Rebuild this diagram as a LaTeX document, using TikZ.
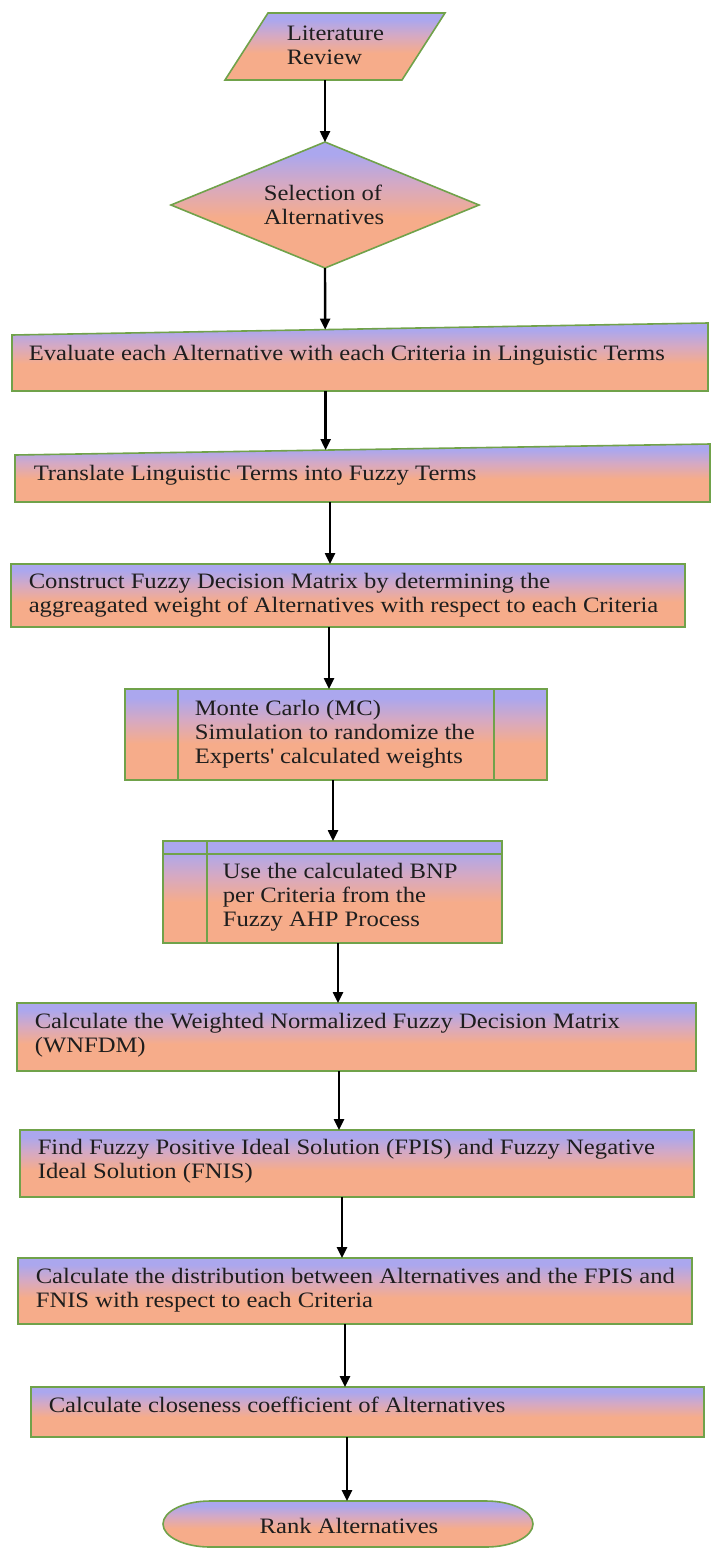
\documentclass[tikz,border=0pt]{standalone}
\usepackage[dvipsnames]{xcolor}
\usepackage{fontspec}
\setmainfont{Liberation Serif}[FakeStretch=1.12]
\usepackage{tikz}
\usetikzlibrary{arrows.meta, shapes.geometric, calc}
\definecolor{lila}{HTML}{ABA7EE}
\definecolor{mauve}{HTML}{D6A9C2}
\definecolor{lachs}{HTML}{F6AC8A}
\definecolor{rand}{HTML}{70A24A}
\definecolor{schrift}{HTML}{1E1E1E}
\pgfdeclareverticalshading{verlauf}{100bp}{color(0bp)=(lachs); color(25bp)=(lachs); color(45bp)=(lachs); color(58bp)=(mauve); color(70bp)=(lila); color(100bp)=(lila)}
\newcommand{\sz}{\fontsize{22}{24}\selectfont}

\begin{document}
\begin{tikzpicture}[x=1pt, y=-1pt, line width=1.6pt,
    kasten/.style={draw=rand, shade, shading=verlauf, inner sep=0pt, outer sep=0pt},
    rahmen/.style={inner sep=0pt, outer sep=0pt},
    form/.style={draw=rand, shade, shading=verlauf},
    txt/.style={font=\sz, text=schrift, align=left, anchor=west, inner sep=0pt},
    pfeil/.style={-{Triangle[length=11pt, width=10pt]}, line width=2.4pt, black}]
    \useasboundingbox (0,0) rectangle (711,1553);

    % Literatur.
    \node[rahmen, minimum width=220pt, minimum height=67pt] (lit) at (335,46.5) {};
    \path[form] ([xshift=43pt]lit.north west) -- (lit.north east) -- ([xshift=-43pt]lit.south east) -- (lit.south west) -- cycle;
    \node[txt] (littxt) at (286,45) {Literature\\Review};

    % Auswahl.
    \node[kasten, diamond, minimum width=308pt, minimum height=126pt] (sel) at (325,205) {};
    \node[txt] (seltxt) at (263,204.5) {Selection of\\Alternatives};

    % Eingaben.
    \node[rahmen, minimum width=696pt, minimum height=68pt] (eval) at (360,357) {};
    \path[form] ([yshift=-12pt]eval.north west) -- (eval.north east) -- (eval.south east) -- (eval.south west) -- cycle;
    \node[txt] (evaltxt) at (28,355) {Evaluate each Alternative with each Criteria in Linguistic Terms};

    \node[rahmen, minimum width=695pt, minimum height=58pt] (trans) at (362.5,473) {};
    \path[form] ([yshift=-11pt]trans.north west) -- (trans.north east) -- (trans.south east) -- (trans.south west) -- cycle;
    \node[txt] (transtxt) at (33,475) {Translate Linguistic Terms into Fuzzy Terms};

    % Matrix.
    \node[kasten, minimum width=674pt, minimum height=63pt] (cons) at (348,595.5) {};
    \node[txt] (constxt) at (28,595) {Construct Fuzzy Decision Matrix by determining the\\aggreagated weight of Alternatives with respect to each Criteria};

    % Simulation.
    \node[kasten, minimum width=422pt, minimum height=91pt] (mc) at (336,734.5) {};
    \draw[rand] ([xshift=53pt]mc.north west) -- ([xshift=53pt]mc.south west)
        ([xshift=-53pt]mc.north east) -- ([xshift=-53pt]mc.south east);
    \node[txt] (mctxt) at (194,734) {Monte Carlo (MC)\\Simulation to randomize the\\Experts\textquotesingle{} calculated weights};

    % Gewichte.
    \node[kasten, minimum width=339pt, minimum height=102pt] (bnp) at (332.5,892) {};
    \draw[rand] ([yshift=-13pt]bnp.north west) -- ([yshift=-13pt]bnp.north east)
        ([xshift=44pt]bnp.north west) -- ([xshift=44pt]bnp.south west);
    \node[txt] (bnptxt) at (222,897.5) {Use the calculated BNP\\per Criteria from the\\Fuzzy AHP Process};

    % Rechnung.
    \node[kasten, minimum width=679pt, minimum height=68pt] (wnfdm) at (356.5,1037) {};
    \node[txt] (wnfdmtxt) at (34,1035.5) {Calculate the Weighted Normalized Fuzzy Decision Matrix\\(WNFDM)};

    \node[kasten, minimum width=674pt, minimum height=67pt] (fpis) at (357,1163.5) {};
    \node[txt] (fpistxt) at (37,1161.5) {Find Fuzzy Positive Ideal Solution (FPIS) and Fuzzy Negative\\Ideal Solution (FNIS)};

    \node[kasten, minimum width=674pt, minimum height=66pt] (dist) at (355,1291) {};
    \node[txt] (disttxt) at (35,1290) {Calculate the distribution between Alternatives and the FPIS and\\FNIS with respect to each Criteria};

    \node[kasten, minimum width=673pt, minimum height=50pt] (close) at (367.5,1412) {};
    \node[txt] (closetxt) at (48,1405) {Calculate closeness coefficient of Alternatives};

    % Ergebnis.
    \node[rahmen, minimum width=370pt, minimum height=46pt] (rank) at (348,1524) {};
    \path[form] ([xshift=47pt]rank.north west) -- ([xshift=-47pt]rank.north east)
        arc[start angle=90, end angle=-90, x radius=47pt, y radius=23pt]
        -- ([xshift=47pt]rank.south west)
        arc[start angle=270, end angle=90, x radius=47pt, y radius=23pt] -- cycle;
    \node[txt, anchor=center] (ranktxt) at (349,1526) {Rank Alternatives};

    % Pfeile.
    \coordinate (evaltop) at ($([yshift=-12pt]eval.north west)!0.45!(eval.north east)$);
    \coordinate (transtop) at ($([yshift=-11pt]trans.north west)!0.447!(trans.north east)$);
    \draw[pfeil] (sel.south) -- (evaltop);
    \draw[pfeil] (transtop |- eval.south) -- (transtop);
    \foreach \a/\b/\x in {lit/sel/325, trans/cons/330, cons/mc/329, mc/bnp/333, bnp/wnfdm/338, wnfdm/fpis/339, fpis/dist/342, dist/close/345, close/rank/347}
    {
        \draw[pfeil] (\x,0 |- \a.south) -- (\x,0 |- \b.north);
    }
\end{tikzpicture}
\end{document}
